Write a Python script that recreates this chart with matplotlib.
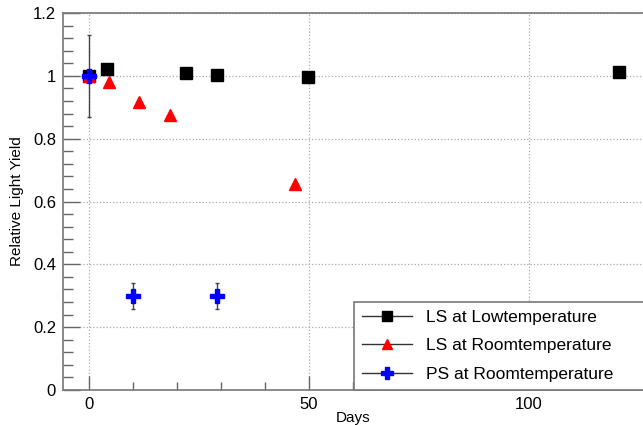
import matplotlib
matplotlib.use("Agg")
import matplotlib.pyplot as plt
from matplotlib.ticker import MultipleLocator
from matplotlib.lines import Line2D

plt.rcParams['font.family'] = ['Liberation Sans', 'DejaVu Sans']

# Data
ls_low_days = [0, 4.0, 22.0, 29.0, 49.8, 120.5]
ls_low_vals = [1.0, 1.022, 1.008, 1.003, 0.997, 1.013]
ls_low_err = [0.13, 0, 0, 0, 0, 0]

ls_room_days = [0, 4.5, 11.4, 18.5, 46.8]
ls_room_vals = [1.0, 0.980, 0.916, 0.874, 0.657]

ps_room_days = [0, 10.1, 29.0]
ps_room_vals = [1.0, 0.30, 0.30]
ps_room_err = [0, 0.042, 0.042]

labels = ["LS at Lowtemperature", "LS at Roomtemperature", "PS at Roomtemperature"]

fig = plt.figure(figsize=(6.43, 4.25), dpi=100)
ax = fig.add_axes([63/643, 35/425, 580/643, 377/425])

ax.errorbar(ls_low_days, ls_low_vals, yerr=ls_low_err, fmt='s', color='black',
            ms=9, ecolor='#444444', elinewidth=1, capsize=1.5, zorder=3)
ax.plot(ls_room_days, ls_room_vals, '^', color='red', ms=9, zorder=4)
ax.errorbar(ps_room_days, ps_room_vals, yerr=ps_room_err, fmt='P', color='blue',
            ms=10, ecolor='#444444', elinewidth=1, capsize=1.5, zorder=5)

ax.set_xlim(-5.9, 125.9)
ax.set_ylim(0, 1.2)
ax.xaxis.set_major_locator(MultipleLocator(50))
ax.xaxis.set_minor_locator(MultipleLocator(10))
ax.yaxis.set_major_locator(MultipleLocator(0.2))
ax.yaxis.set_minor_locator(MultipleLocator(0.04))
ax.set_yticks([0, 0.2, 0.4, 0.6, 0.8, 1.0, 1.2])
ax.set_yticklabels(['0', '0.2', '0.4', '0.6', '0.8', '1', '1.2'])
ax.set_xticks([0, 50, 100])
ax.set_xticklabels(['0', '50', '100'])

ax.tick_params(which='major', direction='in', length=12, width=1, color='#666666',
               labelsize=12, pad=5)
ax.tick_params(which='minor', direction='in', length=7, width=1, color='#666666')
ax.tick_params(axis='x', which='major', length=10)
ax.tick_params(axis='x', which='minor', length=6)
ax.tick_params(top=False, right=False)

ax.grid(True, which='major', linestyle=':', color='#aaaaaa', linewidth=0.9)
for s in ['left', 'bottom', 'top']:
    ax.spines[s].set_color('#777777')
    ax.spines[s].set_linewidth(1.2)
ax.spines['right'].set_visible(False)

ax.set_xlabel('Days', fontsize=11)
ax.set_ylabel('Relative Light Yield', fontsize=11)
ax.xaxis.set_label_coords(0.5, -0.055)
ax.yaxis.set_label_coords(-0.067, 0.5)

handles = [
    Line2D([], [], color='#333333', lw=1, marker='s', ms=7, mfc='black', mec='black'),
    Line2D([], [], color='#333333', lw=1, marker='^', ms=7, mfc='red', mec='red'),
    Line2D([], [], color='#333333', lw=1, marker='P', ms=8, mfc='blue', mec='blue'),
]
leg = ax.legend(handles, labels, loc='lower left',
                bbox_to_anchor=((354-63)/580, 0, (643-354)/580 + 0.01, (390-295)/377),
                mode='expand', fontsize=12.5, handlelength=2.9, handletextpad=0.8,
                borderaxespad=0, fancybox=False, framealpha=1, edgecolor='#777777',
                labelspacing=0.78, borderpad=0.45)
leg.get_frame().set_linewidth(1.2)

fig.savefig('out.png', dpi=100)
